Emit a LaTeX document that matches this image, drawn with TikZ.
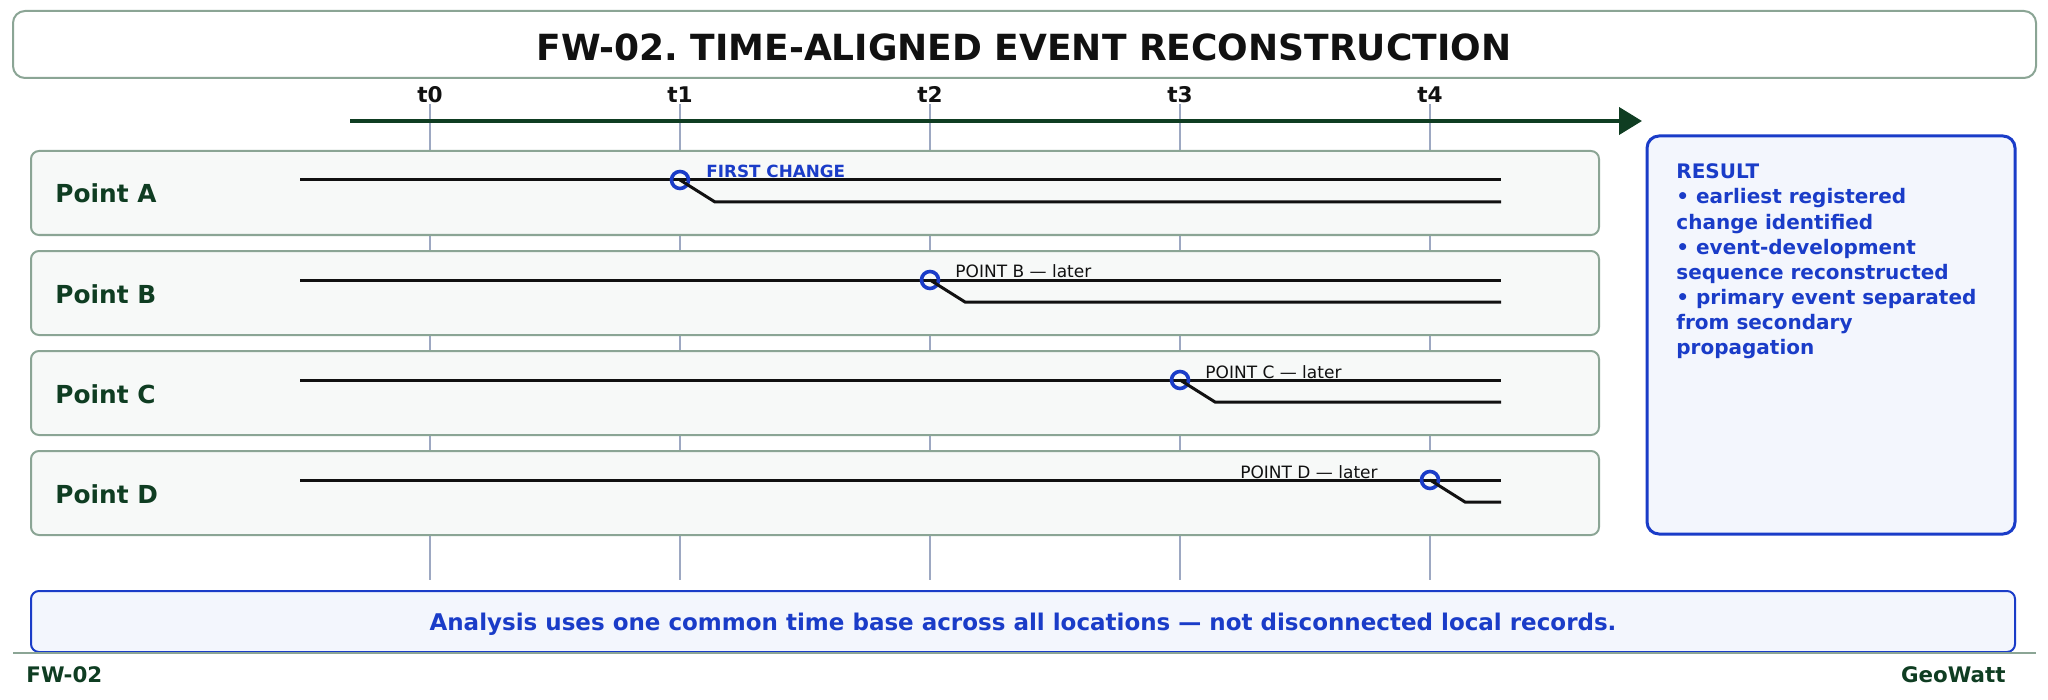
\documentclass[tikz,border=0pt]{standalone}
\usepackage{fontspec}
\setmainfont{DejaVu Sans}
\usetikzlibrary{arrows.meta}
\definecolor{dkgreen}{HTML}{0F3D22}
\definecolor{rblue}{HTML}{1A3CC8}
\definecolor{tickc}{HTML}{9DA8C2}
\definecolor{boxline}{HTML}{8BA595}
\definecolor{boxfill}{HTML}{F7F9F8}
\definecolor{bluefill}{HTML}{F3F6FD}
\definecolor{ink}{HTML}{111111}
\frenchspacing
\begin{document}
\begin{tikzpicture}[x=0.5pt,y=-0.5pt,
  titlebox/.style={draw=boxline,line width=1pt,rounded corners=6pt,fill=white,inner sep=0pt},
  rowbox/.style={draw=boxline,line width=1pt,rounded corners=4pt,fill=boxfill,inner sep=0pt,minimum width=784pt,minimum height=42pt},
  resbox/.style={draw=rblue,line width=1.5pt,rounded corners=6pt,fill=bluefill,inner sep=0pt},
  notebox/.style={draw=rblue,line width=1pt,rounded corners=4pt,fill=bluefill,inner sep=0pt},
  tickline/.style={draw=tickc,line width=0.75pt},
  ticklabel/.style={anchor=base,inner sep=0pt,font=\fontsize{10.8pt}{12pt}\selectfont\bfseries,text=ink},
  rowlabel/.style={anchor=base west,inner sep=0pt,font=\fontsize{12.4pt}{14pt}\selectfont\bfseries,text=dkgreen},
  sig/.style={draw=ink,line width=1.5pt},
  evt/.style={circle,draw=rblue,line width=1.8pt,minimum size=8.5pt,inner sep=0pt},
  evlabel/.style={inner sep=0pt,font=\fontsize{8.5pt}{10pt}\selectfont,text=ink},
  firstlabel/.style={inner sep=0pt,font=\fontsize{8.4pt}{10pt}\selectfont\bfseries,text=rblue},
  restext/.style={anchor=base west,inner sep=0pt,font=\fontsize{10pt}{12pt}\selectfont\bfseries,text=rblue},
  foot/.style={inner sep=0pt,font=\fontsize{10.7pt}{12pt}\selectfont\bfseries,text=dkgreen}]
\useasboundingbox (0,0) rectangle (2048,700);
% title
\node[titlebox,minimum width=1011.5pt,minimum height=33.5pt] (titlebox) at (1024.5,44.5) {};
\node[anchor=base,inner sep=0pt,font=\fontsize{18pt}{20pt}\selectfont\bfseries,text=ink] (title) at (1024,61) {FW-02. TIME-ALIGNED EVENT RECONSTRUCTION};
% tick lines and labels
\foreach \i/\x in {0/430,1/680,2/930,3/1180,4/1430}{
  \coordinate (tt\i) at (\x,104);
  \coordinate (tb\i) at (\x,580);
  \draw[tickline] (tt\i) -- (tb\i);
  \node[ticklabel] (tl\i) at (\x,103) {t\i};
}
% axis
\coordinate (ax0) at (350,121);
\coordinate (ax1) at (1642,121);
\draw[dkgreen,line width=2pt,-{Triangle[length=11.5pt,width=13.5pt]}] (ax0) -- (ax1);
% rows
\foreach \n/\y/\tx in {A/193/680,B/293/930,C/393/1180,D/493/1430}{
  \node[rowbox] (box\n) at (815,\y) {};
  \node[rowlabel] (lab\n) at (55,\y+10) {Point \n};
  \coordinate (s\n) at (300,\y-13);
  \coordinate (e\n) at (1501,\y-13);
  \coordinate (k\n) at (\tx+35,\y+9);
  \coordinate (f\n) at (1501,\y+9);
  \draw[sig] (s\n) -- (e\n);
  \node[evt] (c\n) at (\tx,\y-13) {};
  \draw[sig] (c\n.center) -- (k\n) -- (f\n);
}
\node[firstlabel,anchor=base west] (fA) at (706,178) {FIRST CHANGE};
\node[evlabel,anchor=base west] (fB) at (955,278) {POINT B — later};
\node[evlabel,anchor=base west] (fC) at (1205,378) {POINT C — later};
\node[evlabel,anchor=base east] (fD) at (1378,478) {POINT D — later};
% result box
\node[resbox,minimum width=184pt,minimum height=199pt] (result) at (1831,335) {};
\node[restext] (r1) at (1676,179) {RESULT};
\node[restext] (r2) at (1676,204) {• earliest registered};
\node[restext] (r3) at (1676,229) {change identified};
\node[restext] (r4) at (1676,254) {• event-development};
\node[restext] (r5) at (1676,279) {sequence reconstructed};
\node[restext] (r6) at (1676,304) {• primary event separated};
\node[restext] (r7) at (1676,329) {from secondary};
\node[restext] (r8) at (1676,354) {propagation};
% bottom note
\node[notebox,minimum width=992pt,minimum height=30.5pt] (notebox) at (1023,621.5) {};
\node[anchor=base,inner sep=0pt,font=\fontsize{11.5pt}{12pt}\selectfont\bfseries,text=rblue] (note) at (1023,630) {Analysis uses one common time base across all locations — not disconnected local records.};
% footer
\coordinate (fl0) at (13,653);
\coordinate (fl1) at (2036,653);
\draw[boxline,line width=1pt] (fl0) -- (fl1);
\node[foot,anchor=base west] (fw) at (26,682) {FW-02};
\node[foot,anchor=base east] (gw) at (2006,682) {GeoWatt};
\end{tikzpicture}
\end{document}
